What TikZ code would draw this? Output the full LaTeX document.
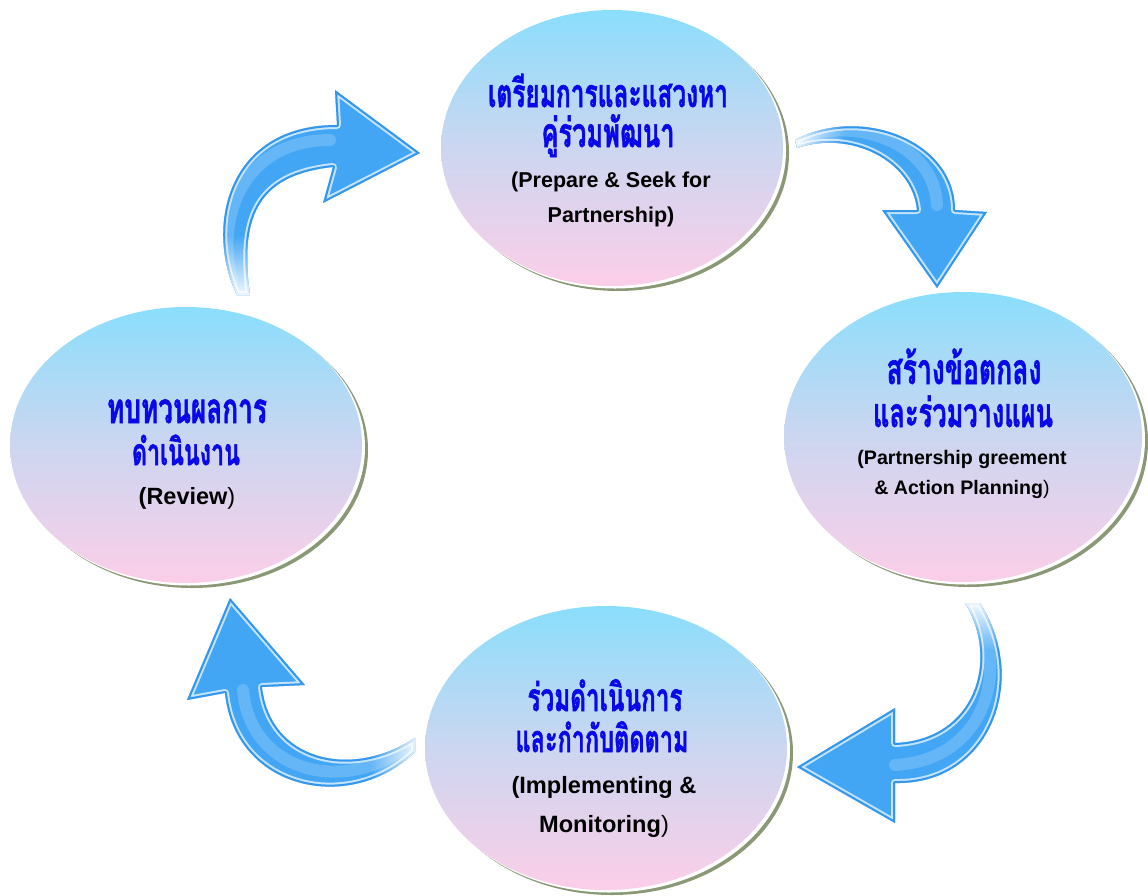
\documentclass[tikz,border=0pt]{standalone}
\usepackage{fontspec}
\setmainfont{Liberation Sans}
\newfontfamily\thaifont[Script=Thai, BoldFeatures={FakeBold=1.5}]{Loma}
\usetikzlibrary{shapes.geometric,shadows,fadings}
\definecolor{thblue}{RGB}{8,8,232}
\definecolor{elltop}{RGB}{138,222,252}
\definecolor{ellmid}{RGB}{204,214,240}
\definecolor{ellbot}{RGB}{252,206,232}
\definecolor{shadowc}{RGB}{138,152,118}
\definecolor{arrblue}{RGB}{66,166,245}
\definecolor{arrlight}{RGB}{196,228,252}
\definecolor{arrdark}{RGB}{52,150,236}
\tikzfading[name=fadeS, top color=transparent!100, bottom color=transparent!0]
\tikzfading[name=fadeN, top color=transparent!0, bottom color=transparent!100]
\tikzfading[name=fadeW, left color=transparent!0, right color=transparent!100]
\tikzfading[name=fadeE, left color=transparent!100, right color=transparent!0]
\newcommand\thl[2]{\scalebox{1}[1.6]{\resizebox{#1}{!}{\thaifont\bfseries #2}}}
\newcommand\glossyarrow[4]{%
  \begin{scope}
    \clip #1;
    \fill[arrblue] #1;
    \draw[white, opacity=0.18, line width=12pt, line cap=round] #4;
    \draw[arrlight, line width=8pt, line join=round] #1;
    \draw[arrdark, line width=4pt, line join=round] #1;
    \fill[white, path fading=#3] #2;
  \end{scope}}
\tikzset{
  stage/.style={ellipse, inner sep=0pt, draw=none,
    top color=elltop, bottom color=ellbot, middle color=ellmid,
    general shadow={fill=shadowc, shadow xshift=6pt, shadow yshift=-5pt},
    general shadow={fill=white, shadow xshift=3pt, shadow yshift=-2.5pt}},
  thaitxt/.style={anchor=base, text=thblue, inner sep=0pt},
  engtxt/.style={anchor=base, text=black, inner sep=0pt},
}
\begin{document}
\begin{tikzpicture}[x=1pt,y=-1pt]
\useasboundingbox (0,0) rectangle (1148,895);
% stages
\node[stage, minimum width=342pt, minimum height=276pt] (prep) at (612,148) {};
\node[stage, minimum width=358pt, minimum height=290pt] (agree) at (963,437) {};
\node[stage, minimum width=352pt, minimum height=276pt] (review) at (186,445) {};
\node[stage, minimum width=362pt, minimum height=284pt] (impl) at (606,748) {};
% texts: top
\node[thaitxt] (prepA) at (608,107) {\thl{240pt}{เตรียมการและแสวงหา}};
\node[thaitxt] (prepB) at (608,147) {\thl{133pt}{คู่ร่วมพัฒนา}};
\node[engtxt, font=\fontsize{21.5}{24}\selectfont\bfseries] (prepC) at (611,187) {(Prepare \& Seek for};
\node[engtxt, font=\fontsize{21.5}{24}\selectfont\bfseries] (prepD) at (611,222) {Partnership)};
% right
\node[thaitxt] (agreeA) at (964,384) {\thl{155pt}{สร้างข้อตกลง}};
\node[thaitxt] (agreeB) at (963,427) {\thl{180pt}{และร่วมวางแผน}};
\node[engtxt, font=\fontsize{19.6}{22}\selectfont\bfseries] (agreeC) at (962,464) {(Partnership greement};
\node[engtxt, font=\fontsize{19.6}{22}\selectfont\bfseries] (agreeD) at (962,494) {\& Action Planning\mdseries)};
% left
\node[thaitxt] (reviewA) at (187,423) {\thl{160pt}{ทบทวนผลการ}};
\node[thaitxt] (reviewB) at (186,465) {\thl{108pt}{ดำเนินงาน}};
\node[engtxt, font=\fontsize{23.5}{26}\selectfont\bfseries] (reviewC) at (187,504) {(Review\mdseries)};
% bottom
\node[thaitxt] (implA) at (605,711) {\thl{155pt}{ร่วมดำเนินการ}};
\node[thaitxt] (implB) at (602,752) {\thl{173pt}{และกำกับติดตาม}};
\node[engtxt, font=\fontsize{23.6}{26}\selectfont\bfseries] (implC) at (604,793) {(Implementing \&};
\node[engtxt, font=\fontsize{23.6}{26}\selectfont\bfseries] (implD) at (604,832) {Monitoring\mdseries)};
% arrows
\glossyarrow{(237,295) .. controls (205,230) and (225,125) .. (337,125) -- (335,90) -- (420,153) -- (323,203) -- (333,167) .. controls (255,175) and (240,220) .. (250,295) -- cycle}
  {(195,235) rectangle (275,300)}{fadeS}
  {(232,280) .. controls (215,215) and (245,140) .. (330,140)}
\glossyarrow{(795,140) .. controls (860,105) and (955,140) .. (955,210) -- (987,212) -- (937,288) -- (882,210) -- (917,210) .. controls (912,160) and (850,130) .. (797,148) -- cycle}
  {(790,110) rectangle (845,160)}{fadeW}
  {(805,135) .. controls (870,118) and (935,150) .. (937,205)}
\glossyarrow{(965,603) .. controls (1000,660) and (975,740) .. (895,743) -- (895,708) -- (797,767) -- (895,823) -- (895,783) .. controls (990,785) and (1030,680) .. (980,603) -- cycle}
  {(955,598) rectangle (1015,650)}{fadeN}
  {(975,610) .. controls (1010,670) and (985,760) .. (895,765)}
\glossyarrow{(415,738) .. controls (350,780) and (270,760) .. (262,687) -- (305,685) -- (230,598) -- (187,700) -- (225,693) .. controls (235,790) and (350,815) .. (415,752) -- cycle}
  {(370,725) rectangle (422,800)}{fadeE}
  {(405,748) .. controls (340,795) and (250,770) .. (243,690)}
\end{tikzpicture}
\end{document}
